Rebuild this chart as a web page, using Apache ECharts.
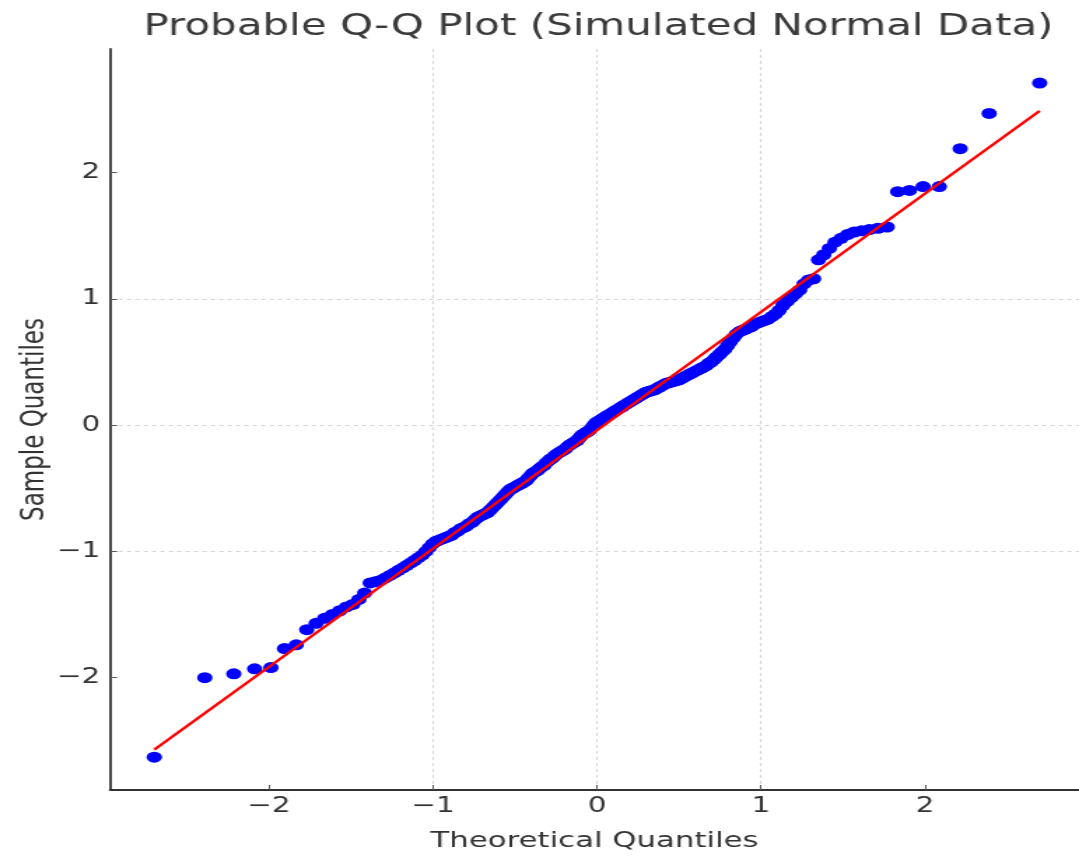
<!DOCTYPE html>
<html>
<head>
<meta charset="utf-8">
<script src="https://cdn.jsdelivr.net/npm/echarts@6/dist/echarts.min.js"></script>
<style>
  html, body { margin: 0; padding: 0; background: #fff; overflow: hidden; }
  /* the reference picture is stretched sideways, so the chart is drawn narrow and scaled */
  #main { width: 771px; height: 857px; transform: scaleX(1.3995); transform-origin: 0 0; }
</style>
</head>
<body>
<div id="main"></div>
<script>
// theoretical quantiles (n = 200)
const theoretical = [
  -2.700, -2.392, -2.215, -2.088, -1.989, -1.906, -1.834, -1.770, -1.713, -1.661,
  -1.614, -1.569, -1.528, -1.489, -1.452, -1.417, -1.383, -1.351, -1.321, -1.291,
  -1.263, -1.236, -1.210, -1.184, -1.159, -1.135, -1.111, -1.089, -1.066, -1.044,
  -1.023, -1.002, -0.982, -0.962, -0.942, -0.923, -0.904, -0.885, -0.867, -0.849,
  -0.831, -0.813, -0.796, -0.779, -0.762, -0.746, -0.729, -0.713, -0.697, -0.681,
  -0.665, -0.650, -0.634, -0.619, -0.604, -0.589, -0.574, -0.560, -0.545, -0.531,
  -0.516, -0.502, -0.488, -0.474, -0.460, -0.446, -0.432, -0.419, -0.405, -0.391,
  -0.378, -0.364, -0.351, -0.338, -0.324, -0.311, -0.298, -0.285, -0.272, -0.259,
  -0.246, -0.234, -0.221, -0.208, -0.195, -0.183, -0.170, -0.157, -0.145, -0.132,
  -0.119, -0.107, -0.094, -0.082, -0.069, -0.057, -0.044, -0.031, -0.019, -0.006,
  0.006, 0.019, 0.031, 0.044, 0.057, 0.069, 0.082, 0.094, 0.107, 0.119,
  0.132, 0.145, 0.157, 0.170, 0.183, 0.195, 0.208, 0.221, 0.234, 0.246,
  0.259, 0.272, 0.285, 0.298, 0.311, 0.324, 0.338, 0.351, 0.364, 0.378,
  0.391, 0.405, 0.419, 0.432, 0.446, 0.460, 0.474, 0.488, 0.502, 0.516,
  0.531, 0.545, 0.560, 0.574, 0.589, 0.604, 0.619, 0.634, 0.650, 0.665,
  0.681, 0.697, 0.713, 0.729, 0.746, 0.762, 0.779, 0.796, 0.813, 0.831,
  0.849, 0.867, 0.885, 0.904, 0.923, 0.942, 0.962, 0.982, 1.002, 1.023,
  1.044, 1.066, 1.089, 1.111, 1.135, 1.159, 1.184, 1.210, 1.236, 1.263,
  1.291, 1.321, 1.351, 1.383, 1.417, 1.452, 1.489, 1.528, 1.569, 1.614,
  1.661, 1.713, 1.770, 1.834, 1.906, 1.989, 2.088, 2.215, 2.392, 2.700
]

// ordered sample values
const sample = [
  -2.63, -2.00, -1.97, -1.93, -1.92, -1.77, -1.74, -1.62, -1.57, -1.53,
  -1.50, -1.47, -1.44, -1.42, -1.38, -1.33, -1.25, -1.24, -1.23, -1.21,
  -1.19, -1.17, -1.15, -1.13, -1.11, -1.09, -1.07, -1.05, -1.03, -1.00,
  -0.97, -0.94, -0.92, -0.91, -0.90, -0.89, -0.88, -0.87, -0.85, -0.84,
  -0.82, -0.81, -0.80, -0.78, -0.77, -0.75, -0.73, -0.72, -0.71, -0.70,
  -0.69, -0.67, -0.65, -0.63, -0.61, -0.59, -0.57, -0.55, -0.53, -0.51,
  -0.50, -0.49, -0.48, -0.47, -0.46, -0.45, -0.44, -0.42, -0.40, -0.38,
  -0.37, -0.36, -0.345, -0.33, -0.32, -0.30, -0.285, -0.27, -0.26, -0.245,
  -0.23, -0.22, -0.21, -0.20, -0.19, -0.175, -0.16, -0.15, -0.14, -0.13,
  -0.12, -0.10, -0.08, -0.07, -0.06, -0.05, -0.04, -0.02, 0.00, 0.02,
  0.03, 0.04, 0.05, 0.06, 0.07, 0.08, 0.09, 0.10, 0.11, 0.12,
  0.13, 0.14, 0.15, 0.16, 0.17, 0.18, 0.19, 0.20, 0.21, 0.22,
  0.23, 0.24, 0.25, 0.26, 0.265, 0.27, 0.275, 0.28, 0.29, 0.30,
  0.31, 0.32, 0.33, 0.335, 0.34, 0.345, 0.35, 0.355, 0.36, 0.37,
  0.38, 0.39, 0.40, 0.41, 0.42, 0.43, 0.44, 0.45, 0.46, 0.47,
  0.49, 0.50, 0.52, 0.54, 0.56, 0.58, 0.60, 0.63, 0.66, 0.69,
  0.72, 0.74, 0.75, 0.76, 0.77, 0.78, 0.80, 0.81, 0.82, 0.83,
  0.84, 0.86, 0.88, 0.91, 0.95, 0.98, 1.01, 1.04, 1.07, 1.12,
  1.15, 1.16, 1.31, 1.35, 1.40, 1.45, 1.48, 1.51, 1.53, 1.54,
  1.55, 1.56, 1.57, 1.85, 1.86, 1.89, 1.89, 2.19, 2.47, 2.71
]

// fitted reference line, end points
const fitX = [-2.70, 2.70]
const fitY = [-2.57, 2.49]

const xTicks = [-2, -1, 0, 1, 2]
const yTicks = [-2, -1, 0, 1, 2]

const font = 'DejaVu Sans, Verdana, sans-serif'
const minus = v => String(v).replace('-', '\u2212')

const axisCommon = {
  type: 'value',
  nameLocation: 'middle',
  nameMoveOverlap: false,
  nameTextStyle: { color: '#333', fontSize: 22, fontFamily: font },
  axisLine: { show: true, onZero: false, lineStyle: { color: '#333', width: 1.8 } },
  axisTick: { show: true, inside: true, length: 5, lineStyle: { color: '#555', width: 1 } },
  axisLabel: { color: '#333', fontSize: 21, fontFamily: font, formatter: minus },
  splitLine: { show: true, showMinLine: false, showMaxLine: false, lineStyle: { color: '#d6d6d6', type: [3, 3], width: 1 } }
}

const myChart = echarts.init(document.getElementById('main'), null, { renderer: 'canvas' })

const options = {
  animation: false,
  backgroundColor: '#fff',
  title: {
    text: 'Probable Q-Q Plot (Simulated Normal Data)',
    left: 97.5,
    top: 7,
    textStyle: { color: '#3a3a3a', fontSize: 30, fontWeight: 'normal', fontFamily: font }
  },
  grid: { left: 78.6, right: 0, top: 49, bottom: 66, containLabel: false },
  xAxis: Object.assign({}, axisCommon, {
    name: 'Theoretical Quantiles',
    nameGap: 40,
    min: -2.97,
    max: 2.94,
    axisTick: Object.assign({}, axisCommon.axisTick, { customValues: xTicks }),
    axisLabel: Object.assign({}, axisCommon.axisLabel, { customValues: xTicks, margin: 6 })
  }),
  yAxis: Object.assign({}, axisCommon, {
    name: 'Sample Quantiles',
    nameGap: 42,
    nameTextStyle: { color: '#333', fontSize: 23, fontFamily: font },
    min: -2.89,
    max: 2.98,
    axisTick: Object.assign({}, axisCommon.axisTick, { customValues: yTicks }),
    axisLabel: Object.assign({}, axisCommon.axisLabel, { customValues: yTicks, margin: 7 })
  }),
  series: [
    {
      name: 'sample',
      type: 'scatter',
      symbol: 'circle',
      symbolSize: 11,
      itemStyle: { color: '#0000ff', opacity: 1 },
      data: theoretical.map((x, i) => [x, sample[i]]),
      z: 2
    },
    {
      name: 'fit',
      type: 'line',
      showSymbol: false,
      lineStyle: { color: '#ff0000', width: 2.2 },
      data: fitX.map((x, i) => [x, fitY[i]]),
      z: 3
    }
  ]
}

myChart.setOption(options)
</script>
</body>
</html>
